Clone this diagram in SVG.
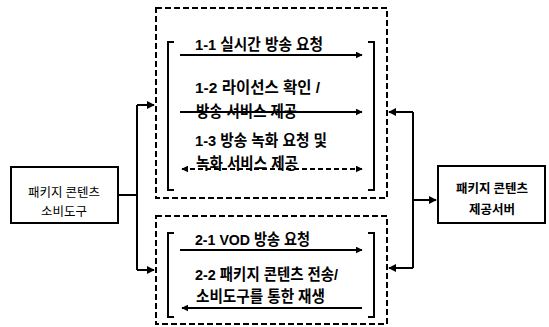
<svg xmlns="http://www.w3.org/2000/svg" width="549" height="327" viewBox="0 0 549 327">
<style>
.node{fill:#fff;stroke:#000;stroke-width:2}
.grp{fill:none;stroke:#000;stroke-width:2;stroke-dasharray:6 3}
.br{fill:none;stroke:#000;stroke-width:2}
.ln{fill:none;stroke:#000;stroke-width:2}
.msg{fill:none;stroke:#000;stroke-width:2}
.dash{stroke-dasharray:5 3}
.t{font-family:"Liberation Sans","Noto Sans CJK KR",sans-serif;font-weight:bold;font-size:15.5px;fill:#000}
.nt{font-family:"Noto Sans CJK KR",sans-serif;font-size:12.5px;fill:#000;text-anchor:middle}
</style>
<defs>
<marker id="ah" viewBox="0 0 10 10" refX="9" refY="5" markerWidth="4" markerHeight="4" orient="auto-start-reverse" markerUnits="strokeWidth">
<path d="M0,0 L10,5 L0,10 z" fill="#000"/>
</marker>
<marker id="ahs" viewBox="0 0 10 10" refX="9" refY="5" markerWidth="3.5" markerHeight="3.5" orient="auto-start-reverse" markerUnits="strokeWidth">
<path d="M0,0 L10,5 L0,10 z" fill="#000"/>
</marker>
</defs>

<g id="group1">
<rect class="grp" x="156" y="8" width="231" height="190"/>
<path class="br" d="M174,42 H168 V190 H174"/>
<path class="br" d="M368,42 H374 V190 H368"/>
<text class="t" x="195" y="50" textLength="128" lengthAdjust="spacingAndGlyphs">1-1 실시간 방송 요청</text>
<text class="t" x="195" y="93" textLength="125" lengthAdjust="spacingAndGlyphs">1-2 라이선스 확인 /</text>
<text class="t" x="196" y="117" textLength="101" lengthAdjust="spacingAndGlyphs">방송 서비스 제공</text>
<text class="t" x="195" y="146" textLength="132" lengthAdjust="spacingAndGlyphs">1-3 방송 녹화 요청 및</text>
<text class="t" x="196" y="169" textLength="102" lengthAdjust="spacingAndGlyphs">녹화 서비스 제공</text>
</g>

<g id="group2">
<rect class="grp" x="156" y="216" width="231" height="108"/>
<path class="br" d="M174,233 H168 V317 H174"/>
<path class="br" d="M368,233 H374 V317 H368"/>
<text class="t" x="195" y="245" textLength="115" lengthAdjust="spacingAndGlyphs">2-1 VOD 방송 요청</text>
<text class="t" x="195" y="280" textLength="143" lengthAdjust="spacingAndGlyphs">2-2 패키지 콘텐츠 전송/</text>
<text class="t" x="196" y="302" textLength="129" lengthAdjust="spacingAndGlyphs">소비도구를 통한 재생</text>
</g>

<g id="consumer">
<rect class="node" x="11" y="167" width="107" height="56"/>
<text class="nt" x="64" y="197">패키지 콘텐츠</text>
<text class="nt" x="64" y="216">소비도구</text>
</g>

<g id="server">
<rect class="node" x="438" y="166" width="107" height="57"/>
<text class="nt" x="492" y="193" font-weight="bold" font-size="13">패키지 콘텐츠</text>
<text class="nt" x="492" y="214" font-weight="bold" font-size="13">제공서버</text>
</g>

<g id="connectors">
<path class="ln" d="M118,195 H137"/>
<path class="ln" d="M137,105 V270"/>
<path class="ln" d="M137,105 H154" marker-end="url(#ah)"/>
<path class="ln" d="M137,270 H154" marker-end="url(#ah)"/>
<path class="ln" d="M413,112 V268"/>
<path class="ln" d="M413,112 H389" marker-end="url(#ah)"/>
<path class="ln" d="M413,268 H389" marker-end="url(#ah)"/>
<path class="ln" d="M413,200 H436" marker-end="url(#ah)"/>
<path class="msg" d="M180,55 H362" marker-end="url(#ahs)"/>
<path class="msg" d="M180,112 H362" marker-end="url(#ahs)"/>
<path class="msg dash" d="M182,169 H362" marker-start="url(#ahs)" marker-end="url(#ahs)"/>
<path class="msg" d="M180,250 H362" marker-end="url(#ahs)"/>
<path class="msg" d="M362,308 H182" marker-end="url(#ahs)"/>
</g>
</svg>
